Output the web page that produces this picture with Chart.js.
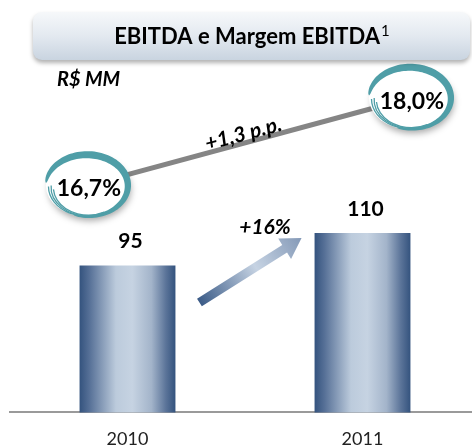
<!DOCTYPE html>
<html>
<head>
<meta charset="utf-8">
<script src="https://cdn.jsdelivr.net/npm/chart.js@4.4.0/dist/chart.umd.min.js"></script>
<style>
  html, body { margin: 0; background: #fff; overflow: hidden; }
  canvas { display: block; }
</style>
</head>
<body>
<canvas id="ebitdaChart" width="480" height="447"></canvas>
<script>
const years = ['2010', '2011'];
const ebitda = [95, 110];
const margin = [16.7, 18.0];
const ebitdaText = ['95', '110'];
const marginText = ['16,7%', '18,0%'];
const growthText = '+16%';
const marginDeltaText = '+1,3 p.p.';
const titleText = 'EBITDA e Margem EBITDA';
const titleNote = '1';
const unitText = 'R$ MM';

const FONT = 'Lato, "Liberation Sans", sans-serif';
const teal = '#4f9ea7';
const barPct = 0.408;

// bar fill: dark edges, light middle
const barFill = (c) => {
  const chart = c.chart;
  const area = chart.chartArea;
  if (!area || c.dataIndex === undefined) return '#6f87a8';
  const cx = chart.scales.x.getPixelForValue(c.dataIndex);
  const bw = (area.right - area.left) / years.length * barPct;
  const g = chart.ctx.createLinearGradient(cx - bw / 2, 0, cx + bw / 2, 0);
  g.addColorStop(0, '#34537e');
  g.addColorStop(0.1, '#556f96');
  g.addColorStop(0.38, '#bccbdc');
  g.addColorStop(0.55, '#c6d3e2');
  g.addColorStop(0.75, '#a3b4ca');
  g.addColorStop(0.9, '#5b7499');
  g.addColorStop(1, '#34537e');
  return g;
};

function drawRing(ctx, cx, cy, rx, ry, text) {
  // white inside with soft shadow
  ctx.save();
  ctx.shadowColor = 'rgba(0,0,0,0.35)';
  ctx.shadowBlur = 7;
  ctx.shadowOffsetX = 3;
  ctx.shadowOffsetY = 4;
  ctx.fillStyle = '#fff';
  ctx.beginPath();
  ctx.ellipse(cx, cy, rx, ry, 0, 0, Math.PI * 2);
  ctx.fill();
  ctx.restore();

  // brush stroke, thick on top, thinner towards bottom
  const a1 = Math.PI * 1.03, a2 = Math.PI * 2.6;
  const steps = 90;
  const outer = [], inner = [];
  for (let i = 0; i <= steps; i++) {
    const t = i / steps;
    const a = a1 + (a2 - a1) * t;
    const w = 0.6 + 8.5 * Math.pow(Math.sin(Math.PI * t), 0.5) * (1 - 0.5 * t);
    outer.push([cx + (rx + w / 2) * Math.cos(a), cy + (ry + w / 2) * Math.sin(a)]);
    inner.push([cx + (rx - w / 2) * Math.cos(a), cy + (ry - w / 2) * Math.sin(a)]);
  }
  ctx.save();
  ctx.fillStyle = teal;
  ctx.beginPath();
  outer.forEach((p, i) => i ? ctx.lineTo(p[0], p[1]) : ctx.moveTo(p[0], p[1]));
  for (let i = inner.length - 1; i >= 0; i--) ctx.lineTo(inner[i][0], inner[i][1]);
  ctx.closePath();
  ctx.fill();

  // thin strands at the bottom
  ctx.strokeStyle = teal;
  ctx.lineWidth = 1.3;
  [[-2, 2, 0.15, 1.0], [-4, 4, 0.25, 1.02], [-6, 5, 0.35, 0.98]].forEach(s => {
    ctx.beginPath();
    ctx.ellipse(cx + s[1] * 0.3, cy + s[1] * 0.4, rx + s[0], ry + s[0] * 0.6, 0, Math.PI * s[2], Math.PI * s[3]);
    ctx.stroke();
  });
  ctx.restore();

  ctx.save();
  ctx.fillStyle = '#000';
  ctx.font = 'bold 23px ' + FONT;
  ctx.textAlign = 'center';
  ctx.textBaseline = 'middle';
  ctx.fillText(text, cx + 2, cy + 3);
  ctx.restore();
}

function drawArrow(ctx, x1, y1, x2, y2) {
  const ang = Math.atan2(y2 - y1, x2 - x1);
  const len = Math.hypot(x2 - x1, y2 - y1);
  const shaft = 9, head = 24, headLen = 20;
  ctx.save();
  ctx.translate(x1, y1);
  ctx.rotate(ang);
  const g = ctx.createLinearGradient(0, 0, len, 0);
  g.addColorStop(0, '#3b5b87');
  g.addColorStop(0.55, '#c6d3e3');
  g.addColorStop(1, '#8499b7');
  ctx.fillStyle = g;
  ctx.beginPath();
  ctx.moveTo(0, -shaft / 2);
  ctx.lineTo(len - headLen, -shaft / 2);
  ctx.lineTo(len - headLen, -head / 2);
  ctx.lineTo(len, 0);
  ctx.lineTo(len - headLen, head / 2);
  ctx.lineTo(len - headLen, shaft / 2);
  ctx.lineTo(0, shaft / 2);
  ctx.closePath();
  ctx.fill();
  ctx.restore();
}

const decorPlugin = {
  id: 'decor',
  afterDatasetsDraw(chart) {
    const ctx = chart.ctx;
    const bars = chart.getDatasetMeta(0).data;
    const pts = chart.getDatasetMeta(1).data;

    // margin rings
    pts.forEach((p, i) => drawRing(ctx, p.x, p.y, 41, 31, marginText[i]));

    // label along the margin line
    const p0 = pts[0], p1 = pts[1];
    const ang = Math.atan2(p1.y - p0.y, p1.x - p0.x);
    ctx.save();
    ctx.translate((p0.x + p1.x) / 2 - 5, (p0.y + p1.y) / 2 - 8);
    ctx.rotate(ang);
    ctx.font = 'italic bold 21px ' + FONT;
    ctx.fillStyle = '#000';
    ctx.textAlign = 'center';
    ctx.textBaseline = 'middle';
    ctx.fillText(marginDeltaText, 0, 0);
    ctx.restore();

    // value labels over the bars
    ctx.save();
    ctx.font = 'bold 21px ' + FONT;
    ctx.fillStyle = '#000';
    ctx.textAlign = 'center';
    ctx.textBaseline = 'middle';
    bars.forEach((b, i) => ctx.fillText(ebitdaText[i], b.x + 3, b.y - 24));
    ctx.restore();

    // growth arrow between the bars
    const b0 = bars[0], b1 = bars[1];
    drawArrow(ctx, b0.x + b0.width / 2 + 24, b0.y + 37, b1.x - b1.width / 2 - 13, b1.y + 5);
    ctx.save();
    ctx.font = 'italic bold 21px ' + FONT;
    ctx.fillStyle = '#000';
    ctx.textAlign = 'center';
    ctx.textBaseline = 'middle';
    ctx.fillText(growthText, (b0.x + b1.x) / 2 + 20, b1.y - 6);
    ctx.restore();
  },
  afterDraw(chart) {
    const ctx = chart.ctx;
    // title box
    ctx.save();
    ctx.shadowColor = 'rgba(0,0,0,0.3)';
    ctx.shadowBlur = 4;
    ctx.shadowOffsetY = 3;
    const g = ctx.createLinearGradient(0, 12, 0, 60);
    g.addColorStop(0, '#f6f8fa');
    g.addColorStop(0.5, '#e3e9f0');
    g.addColorStop(1, '#c9d4e0');
    ctx.fillStyle = g;
    ctx.beginPath();
    ctx.roundRect(33, 12, 437, 48, 9);
    ctx.fill();
    ctx.restore();

    ctx.save();
    ctx.fillStyle = '#000';
    ctx.textBaseline = 'middle';
    ctx.font = 'bold 22px ' + FONT;
    const w1 = ctx.measureText(titleText).width;
    ctx.font = '15px ' + FONT;
    const w2 = ctx.measureText(titleNote).width;
    const start = 252 - (w1 + w2 + 1) / 2;
    ctx.font = 'bold 22px ' + FONT;
    ctx.textAlign = 'left';
    ctx.fillText(titleText, start, 37);
    ctx.font = '15px ' + FONT;
    ctx.fillText(titleNote, start + w1 + 1, 31);

    ctx.font = 'italic bold 20px ' + FONT;
    ctx.fillText(unitText, 57, 80);
    ctx.restore();
  }
};

new Chart(document.getElementById('ebitdaChart'), {
  data: {
    labels: years,
    datasets: [
      {
        type: 'bar',
        label: 'EBITDA',
        data: ebitda,
        backgroundColor: barFill,
        categoryPercentage: 1,
        barPercentage: barPct,
        grouped: false,
        xAxisID: 'x',
        yAxisID: 'y',
        order: 2
      },
      {
        type: 'line',
        label: 'Margem EBITDA',
        data: margin.map((v, i) => ({ x: i, y: v })),
        borderColor: '#858585',
        borderWidth: 5,
        pointRadius: 0,
        xAxisID: 'xm',
        yAxisID: 'y2',
        order: 1
      }
    ]
  },
  options: {
    responsive: false,
    animation: false,
    layout: { padding: { top: 70, left: 10, right: 0, bottom: -19 } },
    plugins: {
      legend: { display: false },
      tooltip: { enabled: false }
    },
    scales: {
      x: {
        type: 'category',
        grid: { display: false, drawTicks: false },
        border: { color: '#9a9a9a', width: 2 },
        ticks: { color: '#222', font: { family: FONT, size: 18 }, padding: 16 }
      },
      xm: { type: 'linear', display: false, min: -0.238, max: 1.217 },
      y: { display: false, min: 27, max: 185.5 },
      y2: { display: false, min: 13.33, max: 18.42 }
    }
  },
  plugins: [decorPlugin]
});
</script>
</body>
</html>
